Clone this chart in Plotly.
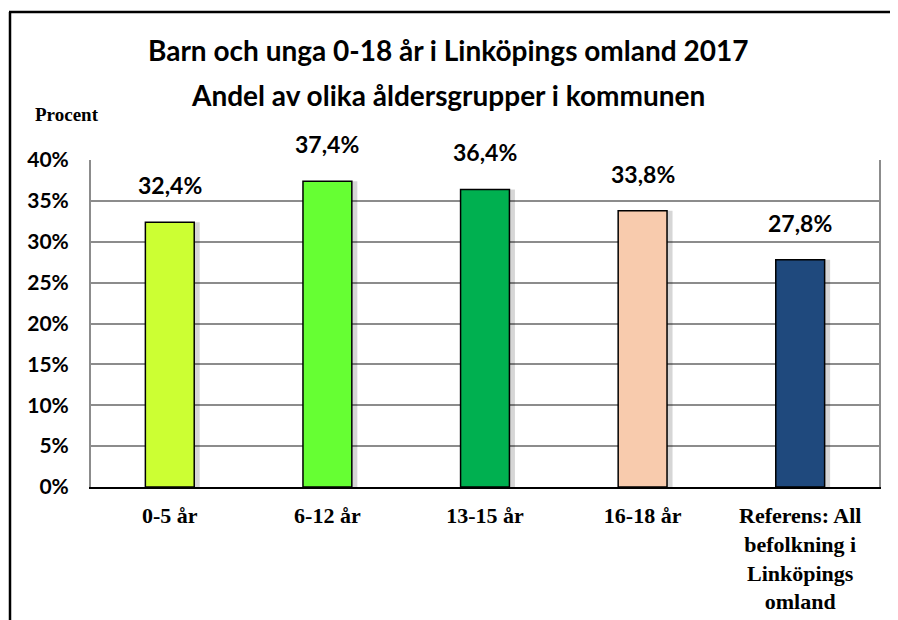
import plotly.graph_objects as go

categories = ["0-5 år", "6-12 år", "13-15 år", "16-18 år",
              "Referens: All<br>befolkning i<br>Linköpings<br>omland"]
values = [32.4, 37.4, 36.4, 33.8, 27.8]
value_labels = ["32,4%", "37,4%", "36,4%", "33,8%", "27,8%"]
colors = ["#CCFF33", "#66FF33", "#00B050", "#F8CBAD", "#1F497D"]
tick_vals = [0, 5, 10, 15, 20, 25, 30, 35, 40]
tick_text = ["0%", "5%", "10%", "15%", "20%", "25%", "30%", "35%", "40%"]
title_lines = ["Barn och unga 0-18 år i Linköpings omland 2017",
               "Andel av olika åldersgrupper i kommunen"]

OFF = 8  # page body margin
W, H = 890, 612
L, R, T, B = 83, 19, 152, 133
pw, ph = W - L - R, H - T - B

def px_x(x):
    return (x - OFF - L) / pw

def px_y(y):
    return (H - B - (y - OFF)) / ph

bw = 0.31
fig = go.Figure()
# soft shadow
fig.add_trace(go.Bar(x=categories, y=values, width=bw, offset=-bw / 2 + 0.035,
                     marker=dict(color="rgba(0,0,0,0.16)", line=dict(width=0)),
                     hoverinfo="skip", showlegend=False))
fig.add_trace(go.Bar(x=categories, y=values, width=bw, offset=-bw / 2,
                     marker=dict(color=colors, line=dict(color="black", width=1.5)),
                     showlegend=False))

for c, v, t in zip(categories, values, value_labels):
    fig.add_annotation(x=c, y=v, text="<b>%s</b>" % t, showarrow=False, yshift=37,
                       font=dict(family="Lato, Carlito, sans-serif", size=23, color="black"),
                       xref="x", yref="y")

for i, line in enumerate(title_lines):
    fig.add_annotation(x=px_x(448), y=px_y([50, 95][i]), xref="paper", yref="paper",
                       text="<b>%s</b>" % line, showarrow=False,
                       xanchor="center", yanchor="middle",
                       font=dict(family="Lato, Carlito, sans-serif", size=28, color="black"))

fig.add_annotation(x=px_x(67), y=px_y(115), xref="paper", yref="paper",
                   text="<b>Procent</b>", showarrow=False, xanchor="center", yanchor="middle",
                   font=dict(family="Liberation Serif, Times New Roman, serif", size=19, color="black"))

# outer chart border (left and top)
fig.add_shape(type="line", xref="paper", yref="paper",
              x0=px_x(10), y0=px_y(660), x1=px_x(10), y1=px_y(12),
              line=dict(color="black", width=2.5))
fig.add_shape(type="line", xref="paper", yref="paper",
              x0=px_x(9), y0=px_y(12), x1=px_x(910), y1=px_y(12),
              line=dict(color="black", width=2.5))

fig.update_layout(
    width=W, height=H,
    margin=dict(l=L, r=R, t=T, b=B, autoexpand=False),
    paper_bgcolor="white", plot_bgcolor="white",
    barmode="overlay",
    bargap=0.69,
    font=dict(color="black"),
)
fig.update_xaxes(
    showline=True, linecolor="black", linewidth=2,
    tickfont=dict(family="Liberation Serif, Times New Roman, serif", size=22, color="black"),
    ticks="", showgrid=False, ticklabelstandoff=8, automargin=False,
    tickvals=categories,
    ticktext=["<b>%s</b>" % c for c in categories],
)
fig.update_yaxes(
    range=[0, 40], tickvals=tick_vals, ticktext=["<b>%s</b>" % t for t in tick_text],
    showgrid=True, gridcolor="#8C8C8C", gridwidth=1.5,
    showline=True, linecolor="#8C8C8C", linewidth=2, mirror=True,
    ticks="", ticklabelstandoff=16, automargin=False,
    tickfont=dict(family="Lato, Carlito, sans-serif", size=21, color="black"),
    zeroline=False,
)

fig.write_html("out.html")
